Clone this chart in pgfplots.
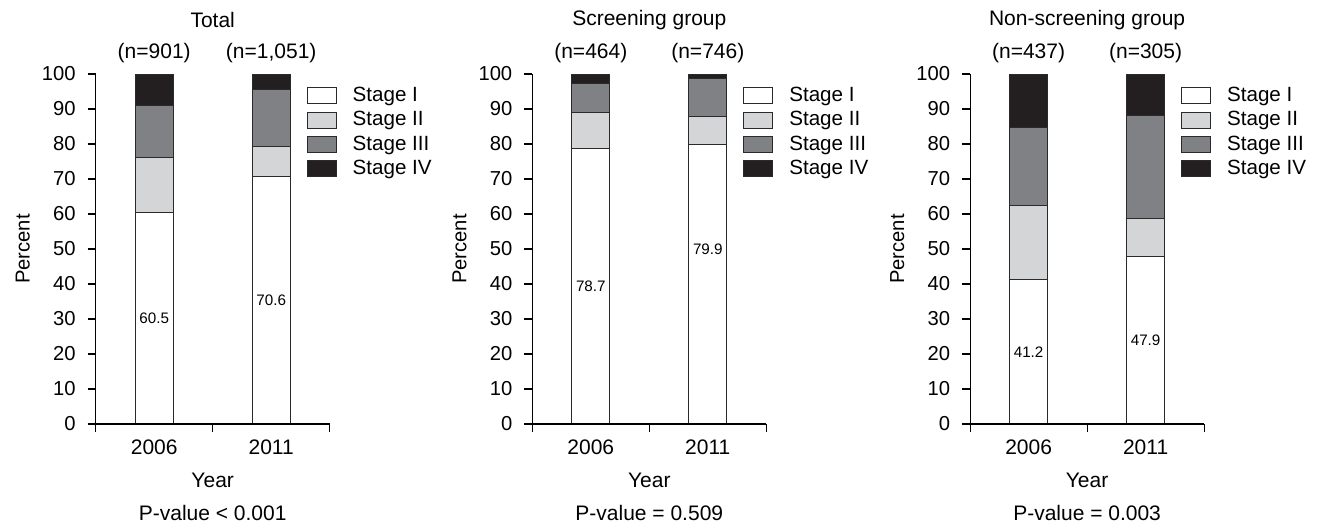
\documentclass[border=0pt]{standalone}
\usepackage{fontspec}
\setmainfont{Liberation Sans}
\usepackage{pgfplots}
\pgfplotsset{compat=1.18}

\definecolor{stI}{HTML}{FFFFFF}
\definecolor{stII}{HTML}{D4D5D7}
\definecolor{stIII}{HTML}{808184}
\definecolor{stIV}{HTML}{231F20}
\definecolor{edge}{HTML}{2A2A2A}

\newcommand{\barlab}{\fontsize{7.6}{9}\selectfont}
\newcommand{\bigtxt}{\fontsize{10.5}{12}\selectfont}

\pgfplotsset{
  panel/.style={
    ybar stacked, bar width=19pt,
    scale only axis, width=117pt, height=175pt,
    anchor=south west, clip=false, axis on top,
    xmin=0, xmax=2, ymin=0, ymax=100,
    axis lines*=left,
    axis line style={line width=0.6pt, black},
    every tick/.style={line width=0.6pt, black},
    tick align=outside, major tick length=4pt,
    xtick={0,1,2}, xticklabels={,,},
    extra x ticks={0.5,1.5}, extra x tick labels={2006,2011},
    extra x tick style={major tick length=0pt},
    ytick={0,10,...,100},
    font=\fontsize{10.1}{12}\selectfont,
    /pgf/number format/assume math mode=true,
    xticklabel style={yshift=-4.5pt, font=\bigtxt},
    yticklabel style={xshift=-2.5pt},
    xlabel={Year},
    xlabel style={at={(axis description cs:0.5,0)}, anchor=center, yshift=-28pt, font=\bigtxt},
    ylabel={Percent},
    ylabel style={at={(axis description cs:0,0.5)}, anchor=center, yshift=36.4pt},
    title style={at={(axis description cs:0.5,1)}, anchor=center, yshift=21pt, font=\bigtxt},
    legend cell align=left,
    legend image code/.code={\draw[#1] (0pt,-4pt) rectangle (14.5pt,4pt);},
    legend style={at={(0.9,0.975)}, anchor=north west, draw=none, fill=none,
      inner sep=0pt, row sep=-0.5pt, font=\fontsize{10.3}{12}\selectfont,
      /tikz/every odd column/.append style={column sep=6pt}},
    every axis plot/.append style={draw=edge, line width=0.5pt},
  },
}

\begin{document}
\begin{tikzpicture}[font=\bigtxt]
\useasboundingbox (-47.85pt,-51pt) rectangle (612.15pt,212pt);

% Total
\begin{axis}[panel, at={(0pt,0pt)}, title={Total}]
\addplot[fill=stI] coordinates {(0.5,60.5) (1.5,70.6)};
\addplot[fill=stII] coordinates {(0.5,15.7) (1.5,8.8)};
\addplot[fill=stIII] coordinates {(0.5,14.9) (1.5,16.1)};
\addplot[fill=stIV] coordinates {(0.5,8.9) (1.5,4.5)};
\legend{Stage I, Stage II, Stage III, Stage IV}
\coordinate (a1) at (axis cs:0.5,30.2);
\coordinate (a2) at (axis cs:1.5,35.3);
\coordinate (an1) at ([yshift=10.5pt]axis cs:0.5,100);
\coordinate (an2) at ([yshift=10.5pt]axis cs:1.5,100);
\coordinate (ap) at ([yshift=-44.5pt]rel axis cs:0.5,0);
\end{axis}
\node[font=\barlab] at (a1) {60.5};
\node[font=\barlab] at (a2) {70.6};
\node at (an1) {(n=901)};
\node at (an2) {(n=1,051)};
\node at (ap) {P-value < 0.001};

% Screening group
\begin{axis}[panel, at={(218.3pt,0pt)}, title={Screening group}]
\addplot[fill=stI] coordinates {(0.5,78.7) (1.5,79.9)};
\addplot[fill=stII] coordinates {(0.5,10.4) (1.5,7.9)};
\addplot[fill=stIII] coordinates {(0.5,8.1) (1.5,10.9)};
\addplot[fill=stIV] coordinates {(0.5,2.8) (1.5,1.3)};
\legend{Stage I, Stage II, Stage III, Stage IV}
\coordinate (b1) at (axis cs:0.5,39.3);
\coordinate (b2) at (axis cs:1.5,50);
\coordinate (bn1) at ([yshift=10.5pt]axis cs:0.5,100);
\coordinate (bn2) at ([yshift=10.5pt]axis cs:1.5,100);
\coordinate (bp) at ([yshift=-44.5pt]rel axis cs:0.5,0);
\end{axis}
\node[font=\barlab] at (b1) {78.7};
\node[font=\barlab] at (b2) {79.9};
\node at (bn1) {(n=464)};
\node at (bn2) {(n=746)};
\node at (bp) {P-value = 0.509};

% Non-screening group
\begin{axis}[panel, at={(437.2pt,0pt)}, title={Non-screening group}]
\addplot[fill=stI] coordinates {(0.5,41.2) (1.5,47.9)};
\addplot[fill=stII] coordinates {(0.5,21.2) (1.5,10.7)};
\addplot[fill=stIII] coordinates {(0.5,22.4) (1.5,29.5)};
\addplot[fill=stIV] coordinates {(0.5,15.2) (1.5,11.9)};
\legend{Stage I, Stage II, Stage III, Stage IV}
\coordinate (c1) at (axis cs:0.5,20.6);
\coordinate (c2) at (axis cs:1.5,24);
\coordinate (cn1) at ([yshift=10.5pt]axis cs:0.5,100);
\coordinate (cn2) at ([yshift=10.5pt]axis cs:1.5,100);
\coordinate (cp) at ([yshift=-44.5pt]rel axis cs:0.5,0);
\end{axis}
\node[font=\barlab] at (c1) {41.2};
\node[font=\barlab] at (c2) {47.9};
\node at (cn1) {(n=437)};
\node at (cn2) {(n=305)};
\node at (cp) {P-value = 0.003};
\end{tikzpicture}
\end{document}
